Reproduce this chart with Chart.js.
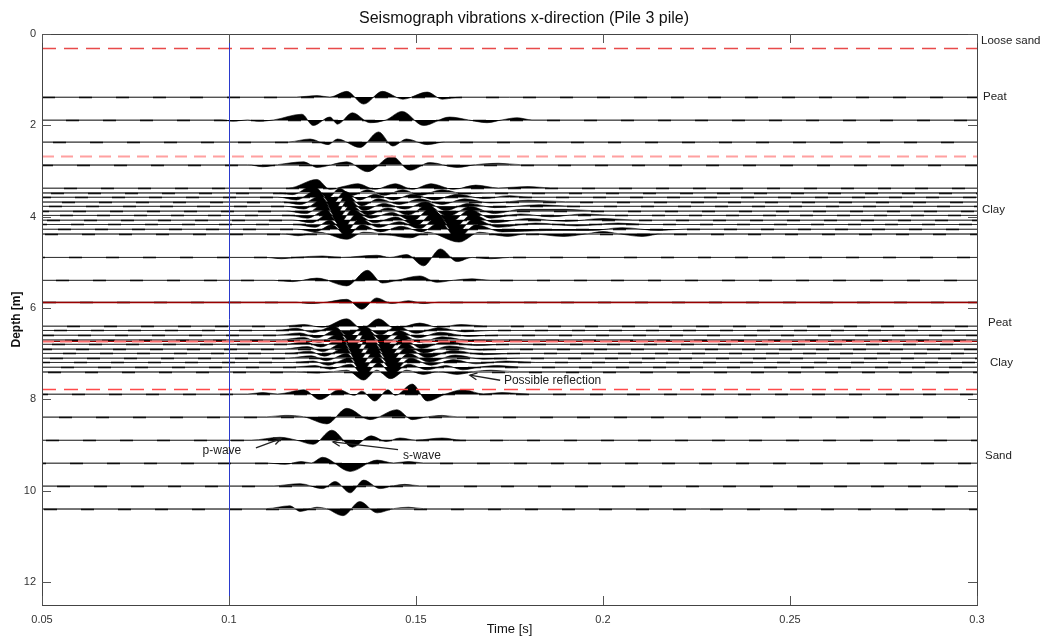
<!DOCTYPE html>
<html><head><meta charset="utf-8">
<script src="https://cdn.jsdelivr.net/npm/chart.js@4/dist/chart.umd.min.js"></script>
<style>html,body{margin:0;padding:0;background:#fff}#wrap{width:1042px;height:637px}</style>
</head><body><div id="wrap"><canvas id="c" width="1042" height="637"></canvas></div>
<script>
// ---------- DATA ----------
const titleText = "Seismograph vibrations x-direction (Pile 3 pile)";
const xTicks = [0.05, 0.1, 0.15, 0.2, 0.25, 0.3];
const yTicks = [0, 2, 4, 6, 8, 10, 12];
const xRange = [0.05, 0.3];
const yRange = [0, 12.5];

// receiver depths [m]
const traceDepths = [1.38, 1.88, 2.36, 2.86,
  3.37, 3.47, 3.57, 3.67, 3.77, 3.87, 3.97, 4.07, 4.17, 4.27, 4.37,
  4.89, 5.39, 5.87,
  6.39, 6.49, 6.59, 6.69, 6.79, 6.89, 6.99, 7.09, 7.19, 7.29, 7.39,
  7.88, 8.38, 8.89, 9.39, 9.89, 10.39];

// waveform samples [time s, amplitude] (amplitude: + = upward)
const w138 = [[0.05,0],[0.118,0],[0.1235,1],[0.127,0],[0.1315,4],[0.136,-5],[0.141,4],[0.1465,-1.5],[0.153,3.5],[0.157,-1.5],[0.162,0],[0.3,0]];
const w188 = [[0.05,0],[0.098,0],[0.101,-1],[0.105,0],[0.108,-1],[0.112,0],[0.1195,4],[0.1225,-4],[0.127,2],[0.129,-3],[0.133,5],[0.1377,-2],[0.142,0],[0.1463,6],[0.152,-4],[0.159,2],[0.164,0],[0.169,-2],[0.173,0],[0.177,1.5],[0.181,0],[0.3,0]];
const w236 = [[0.05,0],[0.116,0],[0.1217,2],[0.1265,-2],[0.129,2],[0.135,-4],[0.14,7],[0.1438,-3],[0.1475,2],[0.153,-2],[0.158,0],[0.3,0]];
const w286 = [[0.05,0],[0.105,0],[0.109,-1.5],[0.113,0],[0.12,2],[0.1235,-2],[0.1315,2],[0.137,-5],[0.1436,6],[0.1484,-4],[0.1537,1.5],[0.161,-2],[0.166,0],[0.172,1],[0.178,0],[0.3,0]];
const w337 = [[0.05,0],[0.116,0],[0.1235,6],[0.127,-1],[0.1305,1],[0.1345,3],[0.139,-1],[0.1445,3],[0.149,-1],[0.154,3],[0.16,-1],[0.166,2],[0.172,0],[0.18,1],[0.186,0],[0.3,0]];
const w347 = [[0.05,0],[0.112,0],[0.117,-1.5],[0.1225,5],[0.1265,-4],[0.1295,3],[0.133,-2],[0.137,2],[0.1415,-2],[0.1465,2],[0.151,-2],[0.157,2],[0.163,-1],[0.17,0],[0.3,0]];
const w357 = [[0.05,0],[0.113,0],[0.118,-2],[0.1235,5],[0.1275,-5],[0.131,4],[0.135,-2],[0.139,2],[0.144,-2],[0.149,2],[0.155,-2],[0.161,2],[0.168,-1],[0.175,1],[0.18,0],[0.3,0]];
const w367 = [[0.05,0],[0.114,0],[0.119,-2],[0.1245,4],[0.128,-6],[0.1315,5],[0.1355,-3],[0.14,2],[0.1455,-2],[0.151,2],[0.157,-2],[0.163,2],[0.17,-1],[0.18,1],[0.19,0],[0.3,0]];
const w377 = [[0.05,0],[0.115,0],[0.12,-2],[0.125,5],[0.1285,-6],[0.132,5],[0.136,-3],[0.1415,2],[0.147,-2],[0.1525,3],[0.158,-3],[0.164,2],[0.171,-1],[0.183,1],[0.192,0],[0.3,0]];
const w387 = [[0.05,0],[0.115,0],[0.1205,-2],[0.1255,5],[0.129,-6],[0.1325,4],[0.137,-3],[0.1425,2],[0.148,-3],[0.153,4],[0.1585,-4],[0.1645,3],[0.171,-2],[0.178,1],[0.19,1],[0.198,0],[0.3,0]];
const w397 = [[0.05,0],[0.116,0],[0.121,-2],[0.126,4],[0.1295,-6],[0.133,4],[0.138,-2],[0.1435,2],[0.149,-4],[0.154,5],[0.159,-5],[0.1645,4],[0.17,-2],[0.178,1],[0.186,-1],[0.195,1],[0.203,0],[0.3,0]];
const w407 = [[0.05,0],[0.117,0],[0.122,-2],[0.1265,4],[0.1305,-6],[0.134,4],[0.139,-2],[0.1445,2],[0.15,-4],[0.155,6],[0.16,-6],[0.165,4],[0.171,-2],[0.18,1],[0.19,-1],[0.2,1],[0.208,0],[0.3,0]];
const w417 = [[0.05,0],[0.118,0],[0.123,-2],[0.127,3],[0.131,-6],[0.135,4],[0.14,-2],[0.1455,2],[0.151,-3],[0.156,6],[0.1605,-7],[0.1655,4],[0.172,-2],[0.182,1],[0.193,-1],[0.204,1],[0.212,0],[0.3,0]];
const w427 = [[0.05,0],[0.118,0],[0.123,-2],[0.1275,3],[0.1315,-5],[0.1355,3],[0.1405,-2],[0.146,2],[0.1515,-2],[0.1565,5],[0.161,-7],[0.166,3],[0.173,-2],[0.185,-1],[0.197,-1],[0.205,1],[0.215,-1],[0.222,0],[0.3,0]];
const w437 = [[0.05,0],[0.114,0],[0.1185,-1.5],[0.124,1],[0.1315,-4],[0.136,1],[0.143,-1],[0.1485,-3],[0.153,1],[0.1615,-6],[0.167,1],[0.1745,-2],[0.18,0],[0.1895,-2],[0.196,0],[0.2,1.5],[0.204,0],[0.2105,-2],[0.216,0],[0.3,0]];
const w489 = [[0.05,0],[0.11,0],[0.114,-1],[0.118,0],[0.125,1],[0.13,0],[0.1395,1.5],[0.143,0],[0.1475,2],[0.152,-6],[0.1565,6],[0.161,-3],[0.165,0],[0.17,-1],[0.175,0],[0.3,0]];
const w539 = [[0.05,0],[0.112,0],[0.117,-1],[0.1235,1.5],[0.1315,-4],[0.137,7],[0.141,-2],[0.145,0],[0.151,3],[0.1556,-1.5],[0.16,0],[0.165,1],[0.17,0],[0.3,0]];
const w587 = [[0.05,0],[0.118,0],[0.122,-1],[0.126,0],[0.1315,2],[0.1355,-5],[0.1395,3],[0.1435,-1],[0.148,1],[0.152,-1],[0.156,0],[0.3,0]];
const w639 = [[0.05,0],[0.115,0],[0.12,1],[0.125,-1],[0.1315,5],[0.1355,-2],[0.14,5],[0.1445,-2],[0.151,2],[0.156,-1],[0.162,1],[0.168,0],[0.3,0]];
const w649 = [[0.05,0],[0.113,0],[0.118,1.5],[0.1225,-1.5],[0.128,3],[0.132,-4],[0.136,3],[0.1405,-3],[0.145,3],[0.15,-2],[0.156,2],[0.163,-1],[0.17,0],[0.3,0]];
const w659 = [[0.05,0],[0.113,0],[0.119,1.5],[0.1235,-2],[0.129,4],[0.1325,-5],[0.1365,5],[0.141,-4],[0.1455,3],[0.1505,-2],[0.1565,2],[0.164,-1],[0.172,0],[0.3,0]];
const w669 = [[0.05,0],[0.114,0],[0.12,1.5],[0.124,-2],[0.1295,4],[0.133,-6],[0.137,6],[0.1415,-5],[0.146,4],[0.151,-2],[0.157,2],[0.165,-1],[0.173,0],[0.3,0]];
const w679 = [[0.05,0],[0.115,0],[0.1205,1.5],[0.1245,-2],[0.13,4],[0.1335,-6],[0.1375,6],[0.142,-6],[0.1465,4],[0.1515,-3],[0.158,2],[0.166,-1],[0.175,0],[0.3,0]];
const w689 = [[0.05,0],[0.115,0],[0.121,1.5],[0.125,-2],[0.1305,4],[0.134,-6],[0.138,6],[0.1425,-6],[0.147,4],[0.152,-3],[0.159,2],[0.167,-1],[0.176,0],[0.3,0]];
const w699 = [[0.05,0],[0.116,0],[0.1215,1.5],[0.1255,-2],[0.131,4],[0.1345,-6],[0.1385,6],[0.143,-6],[0.1475,4],[0.153,-3],[0.16,2],[0.168,-1],[0.178,0],[0.3,0]];
const w709 = [[0.05,0],[0.116,0],[0.122,1.5],[0.126,-2],[0.1315,3],[0.135,-6],[0.139,5],[0.1435,-6],[0.148,3],[0.1535,-3],[0.1605,2],[0.168,-1],[0.18,0],[0.3,0]];
const w719 = [[0.05,0],[0.117,0],[0.1225,1],[0.1265,-2],[0.132,3],[0.1355,-6],[0.1395,4],[0.144,-6],[0.1485,3],[0.154,-2],[0.16,2],[0.166,-1],[0.174,1],[0.182,0],[0.3,0]];
const w729 = [[0.05,0],[0.117,0],[0.123,1],[0.127,-1.5],[0.1325,2],[0.136,-6],[0.14,3],[0.1435,-5],[0.148,2],[0.153,-2],[0.158,1],[0.1625,-2],[0.167,0],[0.172,1],[0.178,0],[0.3,0]];
const w739 = [[0.05,0],[0.118,0],[0.1235,-1],[0.128,0],[0.1315,1],[0.136,-6],[0.1395,1],[0.1432,-5],[0.1475,1],[0.152,-2],[0.156,0],[0.161,-2],[0.1655,0],[0.17,1],[0.176,0],[0.3,0]];
const w788 = [[0.05,0],[0.105,0],[0.109,1],[0.113,0],[0.12,3],[0.1243,-4],[0.1295,3],[0.1335,-1],[0.1355,2],[0.139,-5],[0.1425,3],[0.1445,-1],[0.149,7],[0.153,-5],[0.158,0],[0.1626,3],[0.168,0],[0.173,1],[0.18,0],[0.3,0]];
const w838 = [[0.05,0],[0.11,0],[0.115,1],[0.12,0],[0.1262,-5],[0.1315,6],[0.1377,-2],[0.1449,5],[0.149,-2],[0.153,0],[0.157,1],[0.161,0],[0.3,0]];
const w889 = [[0.05,0],[0.106,0],[0.1136,2],[0.118,0],[0.1225,-3],[0.1275,7],[0.133,-5],[0.138,3],[0.142,-1],[0.1457,1.5],[0.15,0],[0.157,1.5],[0.162,0],[0.3,0]];
const w939 = [[0.05,0],[0.11,0],[0.115,-1],[0.1193,1],[0.122,0],[0.125,4],[0.1324,-6],[0.1396,2],[0.144,0],[0.148,1],[0.152,0],[0.3,0]];
const w989 = [[0.05,0],[0.112,0],[0.119,1.5],[0.125,-2],[0.1284,3],[0.1324,-5],[0.136,4],[0.1404,-2],[0.144,0],[0.147,1],[0.151,0],[0.3,0]];
const w1039 = [[0.05,0],[0.11,0],[0.1163,2],[0.119,-2],[0.1235,1],[0.126,0],[0.1305,-5],[0.135,5],[0.1396,-3],[0.144,0],[0.148,1],[0.152,0],[0.3,0]];

const traceWaves = [w138, w188, w236, w286,
  w337, w347, w357, w367, w377, w387, w397, w407, w417, w427, w437,
  w489, w539, w587,
  w639, w649, w659, w669, w679, w689, w699, w709, w719, w729, w739,
  w788, w838, w889, w939, w989, w1039];

// layer boundaries [depth m]
const boundaryDepths = [0.31, 2.66, 5.87, 6.72, 6.72, 7.77];
const boundaryColors = ['#e84a4a', '#ffa0a0', '#9a0000', '#a00000', '#ff7070', '#ff4a4a'];
const boundaryDash = [[14, 8], [12, 7], [], [], [12, 6], [14, 8]];
const boundaryWidth = [1.4, 1.8, 1.6, 1, 1.8, 1.5];

// layer names on right side
const layerNames = ['Loose sand', 'Peat', 'Clay', 'Peat', 'Clay', 'Sand'];
const layerDepths = [0.15, 1.38, 3.86, 6.33, 7.2, 9.24];
const layerOffsets = [4, 6, 5, 11, 13, 8];

// annotations: text, text position [t, depth], arrow from [t,d] to [t,d]
const noteTexts = ['Possible reflection', 'p-wave', 's-wave'];
const notePos = [[0.1735, 7.6], [0.0981, 9.13], [0.1465, 9.24]];
const noteAlign = ['left', 'center', 'left'];
const arrowFrom = [[0.1725, 7.58], [0.1072, 9.06], [0.1452, 9.10]];
const arrowTo = [[0.1644, 7.47], [0.1139, 8.86], [0.1278, 8.93]];

const markerTime = 0.1;

// ---------- STYLE ----------
const GAIN = 0.031; // depth metres per amplitude unit
const FONT = '"Liberation Sans", Arial, sans-serif';

const datasets = traceDepths.map((d, i) => ({
  data: traceWaves[i].map(p => ({ x: p[0], y: d - p[1] * GAIN })),
  borderWidth: 0.6,
  borderColor: '#000',
  backgroundColor: '#000',
  fill: { value: d },
  pointRadius: 0,
  cubicInterpolationMode: 'monotone',
}));

const decor = {
  id: 'decor',
  beforeDatasetsDraw(chart) {
    const { ctx, chartArea: a, scales: { x, y } } = chart;
    ctx.save();
    // baselines + low-level noise stroke
    traceDepths.forEach((d, i) => {
      const py = Math.round(y.getPixelForValue(d)) + 0.5;
      ctx.strokeStyle = '#7a7a7a'; ctx.lineWidth = 1; ctx.setLineDash([]);
      ctx.beginPath(); ctx.moveTo(a.left, py); ctx.lineTo(a.right, py); ctx.stroke();
      ctx.strokeStyle = '#111'; ctx.lineWidth = 1.7; ctx.setLineDash([13, 24]);
      ctx.lineDashOffset = (i * 13) % 37;
      ctx.beginPath(); ctx.moveTo(a.left, py); ctx.lineTo(a.right, py); ctx.stroke();
    });
    ctx.restore();
  },
  afterDatasetsDraw(chart) {
    const { ctx, chartArea: a, scales: { x, y } } = chart;
    ctx.save();
    ctx.lineDashOffset = 0;
    boundaryDepths.forEach((d, i) => {
      const py = Math.round(y.getPixelForValue(d)) + 0.5;
      ctx.strokeStyle = boundaryColors[i];
      ctx.lineWidth = boundaryWidth[i];
      ctx.setLineDash(boundaryDash[i]);
      ctx.beginPath(); ctx.moveTo(a.left, py); ctx.lineTo(a.right, py); ctx.stroke();
    });
    ctx.setLineDash([]);
    // vertical marker line
    const mx = Math.round(x.getPixelForValue(markerTime)) + 0.5;
    ctx.strokeStyle = '#2a3acc'; ctx.lineWidth = 1;
    ctx.beginPath(); ctx.moveTo(mx, a.top); ctx.lineTo(mx, a.bottom); ctx.stroke();
    // box
    ctx.strokeStyle = '#444'; ctx.lineWidth = 1;
    ctx.strokeRect(Math.round(a.left) + 0.5, Math.round(a.top) + 0.5, Math.round(a.right - a.left), Math.round(a.bottom - a.top));
    // inner ticks
    ctx.strokeStyle = '#555';
    yTicks.forEach(v => {
      const py = Math.round(y.getPixelForValue(v)) + 0.5;
      ctx.beginPath(); ctx.moveTo(a.left, py); ctx.lineTo(a.left + 9, py);
      ctx.moveTo(a.right, py); ctx.lineTo(a.right - 9, py); ctx.stroke();
    });
    xTicks.forEach(v => {
      const px = Math.round(x.getPixelForValue(v)) + 0.5;
      ctx.beginPath(); ctx.moveTo(px, a.bottom); ctx.lineTo(px, a.bottom - 9);
      ctx.moveTo(px, a.top); ctx.lineTo(px, a.top + 9); ctx.stroke();
    });
    // annotations
    ctx.fillStyle = '#222'; ctx.font = '12px ' + FONT; ctx.textBaseline = 'middle';
    noteTexts.forEach((t, i) => {
      ctx.textAlign = noteAlign[i];
      ctx.fillText(t, x.getPixelForValue(notePos[i][0]), y.getPixelForValue(notePos[i][1]));
      const x0 = x.getPixelForValue(arrowFrom[i][0]), y0 = y.getPixelForValue(arrowFrom[i][1]);
      const x1 = x.getPixelForValue(arrowTo[i][0]), y1 = y.getPixelForValue(arrowTo[i][1]);
      ctx.strokeStyle = '#222'; ctx.lineWidth = 1.3;
      ctx.beginPath(); ctx.moveTo(x0, y0); ctx.lineTo(x1, y1); ctx.stroke();
      const ang = Math.atan2(y1 - y0, x1 - x0), L = 8;
      ctx.beginPath();
      ctx.moveTo(x1 - L * Math.cos(ang - 0.45), y1 - L * Math.sin(ang - 0.45));
      ctx.lineTo(x1, y1);
      ctx.lineTo(x1 - L * Math.cos(ang + 0.45), y1 - L * Math.sin(ang + 0.45));
      ctx.stroke();
    });
    // layer names
    ctx.textAlign = 'left';
    ctx.font = '11.5px ' + FONT;
    layerNames.forEach((n, i) => {
      ctx.fillText(n, a.right + layerOffsets[i], y.getPixelForValue(layerDepths[i]));
    });
    // titles
    ctx.font = '16px ' + FONT; ctx.textAlign = 'center'; ctx.fillStyle = '#111';
    ctx.fillText(titleText, 524, 19);
    ctx.font = '13px ' + FONT;
    ctx.fillText('Time [s]', (a.left + a.right) / 2, 629);
    ctx.translate(17, (a.top + a.bottom) / 2);
    ctx.rotate(-Math.PI / 2);
    ctx.font = 'bold 12px ' + FONT;
    ctx.fillText('Depth [m]', 0, 0);
    ctx.restore();
  }
};

new Chart(document.getElementById('c'), {
  type: 'line',
  data: { datasets },
  options: {
    responsive: false,
    animation: false,
    devicePixelRatio: 1,
    layout: { padding: { top: 34, right: 65, left: 0, bottom: 0 } },
    plugins: { legend: { display: false }, tooltip: { enabled: false }, title: { display: false } },
    scales: {
      x: {
        type: 'linear', min: xRange[0], max: xRange[1],
        afterBuildTicks: s => { s.ticks = xTicks.map(v => ({ value: v })); },
        afterFit: s => { s.height = 32; },
        grid: { display: false, drawTicks: false }, border: { display: false },
        ticks: { padding: 8, color: '#333', font: { size: 11, family: FONT }, maxRotation: 0,
          callback: v => String(Number(v.toFixed(2))) }
      },
      y: {
        type: 'linear', reverse: true, min: yRange[0], max: yRange[1],
        afterBuildTicks: s => { s.ticks = yTicks.map(v => ({ value: v })); },
        afterFit: s => { s.width = 42; },
        grid: { display: false, drawTicks: false }, border: { display: false },
        ticks: { padding: 6, color: '#333', font: { size: 11, family: FONT },
          callback: v => String(v) }
      }
    }
  },
  plugins: [decor]
});
</script>
</body></html>
